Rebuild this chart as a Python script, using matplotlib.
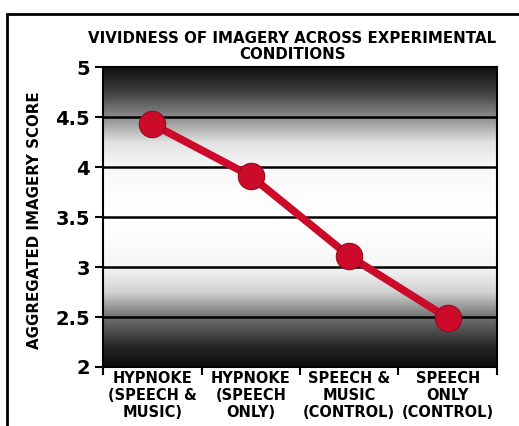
import numpy as np
import matplotlib.pyplot as plt
from matplotlib.patches import Rectangle

## chart data
conditions = ['HYPNOKE\n(SPEECH &\nMUSIC)', 'HYPNOKE\n(SPEECH\nONLY)',
              'SPEECH &\nMUSIC\n(CONTROL)', 'SPEECH\nONLY\n(CONTROL)']
scores = [4.43, 3.91, 3.11, 2.49]
yticks = [2, 2.5, 3, 3.5, 4, 4.5, 5]
yticklabels = ['2', '2.5', '3', '3.5', '4', '4.5', '5']

plt.rcParams['font.family'] = ['DejaVu Sans']
plt.rcParams['font.weight'] = 'bold'

fig = plt.figure(figsize=(5.19, 4.26), dpi=100)
ax = fig.add_axes([0.1985, 0.1385, 0.759, 0.704])

## outer frame
fig.patches.append(Rectangle((7 / 519, -0.1), 1.1, 0.1 + (426 - 14) / 426,
                             transform=fig.transFigure, fill=False,
                             edgecolor='black', linewidth=2))

## background gradient: dark at top/bottom, white in middle
gy = np.linspace(2, 5, 300)
gv = np.interp(gy, [2.0, 2.2, 2.5, 2.75, 3.0, 3.5, 4.0, 4.25, 4.5, 4.75, 5.0],
               [0.05, 0.15, 0.45, 0.82, 0.96, 1.0, 0.97, 0.88, 0.55, 0.25, 0.06])
ax.imshow(gv[:, None], cmap='gray', vmin=0, vmax=1, aspect='auto',
          extent=[0, 4, 2, 5], origin='lower', zorder=0)

for yv in yticks[1:-1]:
    ax.axhline(yv, color='black', linewidth=1.8, zorder=1)

xs = np.arange(len(scores)) + 0.5
ax.plot(xs, scores, color='#cc0a2a', linewidth=5.5, marker='o', markersize=19,
        markerfacecolor='#cc0a2a', markeredgecolor='#9a0820', markeredgewidth=0.8,
        zorder=3)

ax.set_xlim(0, 4)
ax.set_ylim(2, 5)
ax.set_yticks(yticks)
ax.set_yticklabels(yticklabels, fontsize=14, fontweight='bold')
ax.set_xticks(range(5))
ax.set_xticklabels([])
ax.set_xticks(xs, minor=True)
ax.set_xticklabels(conditions, minor=True, fontsize=10.5, fontweight='bold',
                   linespacing=1.15)
ax.tick_params(axis='x', which='minor', length=0, pad=3)
ax.tick_params(axis='both', which='major', direction='out', length=6,
               width=1.5, color='black')
for s in ax.spines.values():
    s.set_linewidth(1.5)

ax.set_ylabel('AGGREGATED IMAGERY SCORE', fontsize=10.8, fontweight='bold')
ax.yaxis.set_label_coords(-0.155, 0.49)
ax.set_title('VIVIDNESS OF IMAGERY ACROSS EXPERIMENTAL\nCONDITIONS',
             fontsize=10.8, fontweight='bold', pad=6, linespacing=1.05, x=0.48)

fig.savefig('out.png', dpi=100)
